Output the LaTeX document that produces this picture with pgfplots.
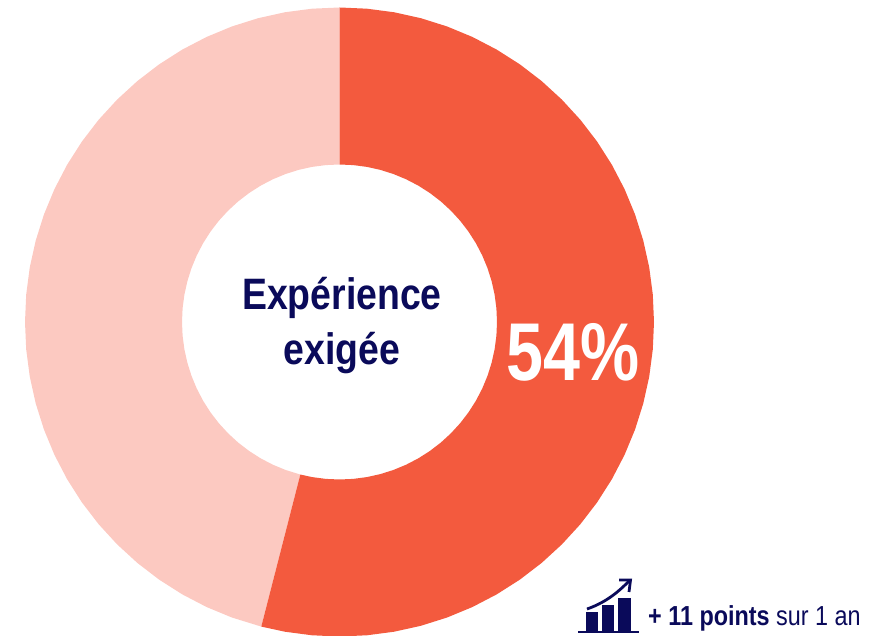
\documentclass[border=0pt]{standalone}
\usepackage{fontspec}
\usepackage{pgfplots}
\pgfplotsset{compat=1.18}
\setmainfont{Liberation Sans}
\newfontfamily\narrowbf[FakeStretch=0.85]{Liberation Sans Bold}
\newfontfamily\narrowbig[FakeStretch=0.81]{Liberation Sans Bold}
\newfontfamily\narrowrm[FakeStretch=0.85]{Liberation Sans}
\definecolor{coral}{HTML}{F35A3E}
\definecolor{lightcoral}{HTML}{FCC9C1}
\definecolor{navy}{HTML}{0A0A5A}
\begin{document}
\begin{tikzpicture}
\begin{axis}[
  at={(0pt,0pt)}, anchor=south west,
  scale only axis, width=884pt, height=636pt,
  xmin=-339.5, xmax=544.5, ymin=-314, ymax=322,
  hide axis, clip=false]
% slice: 54 % of the ring clockwise from 12 o'clock (angle, radius)
\addplot[fill=lightcoral, draw=none, data cs=polar] coordinates {
(90,314.5)(95,314.5)(100,314.5)(105,314.5)(110,314.5)(115,314.5)(120,314.5)(125,314.5)(130,314.5)(135,314.5)(140,314.5)(145,314.5)(150,314.5)(155,314.5)(160,314.5)(165,314.5)(170,314.5)(175,314.5)(180,314.5)(185,314.5)(190,314.5)(195,314.5)(200,314.5)(205,314.5)(210,314.5)(215,314.5)(220,314.5)(225,314.5)(230,314.5)(235,314.5)(240,314.5)(245,314.5)(250,314.5)(255.6,314.5)
(255.6,157.5)(250,157.5)(245,157.5)(240,157.5)(235,157.5)(230,157.5)(225,157.5)(220,157.5)(215,157.5)(210,157.5)(205,157.5)(200,157.5)(195,157.5)(190,157.5)(185,157.5)(180,157.5)(175,157.5)(170,157.5)(165,157.5)(160,157.5)(155,157.5)(150,157.5)(145,157.5)(140,157.5)(135,157.5)(130,157.5)(125,157.5)(120,157.5)(115,157.5)(110,157.5)(105,157.5)(100,157.5)(95,157.5)(90,157.5)
} -- cycle;
\addplot[fill=coral, draw=none, data cs=polar] coordinates {
(90,314.5)(85,314.5)(80,314.5)(75,314.5)(70,314.5)(65,314.5)(60,314.5)(55,314.5)(50,314.5)(45,314.5)(40,314.5)(35,314.5)(30,314.5)(25,314.5)(20,314.5)(15,314.5)(10,314.5)(5,314.5)(0,314.5)(-5,314.5)(-10,314.5)(-15,314.5)(-20,314.5)(-25,314.5)(-30,314.5)(-35,314.5)(-40,314.5)(-45,314.5)(-50,314.5)(-55,314.5)(-60,314.5)(-65,314.5)(-70,314.5)(-75,314.5)(-80,314.5)(-85,314.5)(-90,314.5)(-95,314.5)(-100,314.5)(-104.4,314.5)
(-104.4,157.5)(-100,157.5)(-95,157.5)(-90,157.5)(-85,157.5)(-80,157.5)(-75,157.5)(-70,157.5)(-65,157.5)(-60,157.5)(-55,157.5)(-50,157.5)(-45,157.5)(-40,157.5)(-35,157.5)(-30,157.5)(-25,157.5)(-20,157.5)(-15,157.5)(-10,157.5)(-5,157.5)(0,157.5)(5,157.5)(10,157.5)(15,157.5)(20,157.5)(25,157.5)(30,157.5)(35,157.5)(40,157.5)(45,157.5)(50,157.5)(55,157.5)(60,157.5)(65,157.5)(70,157.5)(75,157.5)(80,157.5)(85,157.5)(90,157.5)
} -- cycle;
% texts
\node[anchor=base, text=navy, font=\narrowbf\fontsize{44}{44}\selectfont] at (axis cs:2.5,12) {Expérience};
\node[anchor=base, text=navy, font=\narrowbf\fontsize{44}{44}\selectfont] at (axis cs:2.5,-43) {exigée};
\node[anchor=base, text=white, font=\narrowbig\fontsize{82}{82}\selectfont] at (axis cs:233.5,-59) {54\%};
\node[anchor=base west, inner sep=0pt, text=navy, font=\narrowrm\fontsize{27.5}{27.5}\selectfont] at (axis cs:308.5,-304) {{\narrowbf + 11 points} sur 1 an};
% icon
\addplot[fill=navy, draw=none] coordinates {(246.5,-310)(258.5,-310)(258.5,-290)(246.5,-290)} -- cycle;
\addplot[fill=navy, draw=none] coordinates {(262.5,-310)(274.5,-310)(274.5,-283)(262.5,-283)} -- cycle;
\addplot[fill=navy, draw=none] coordinates {(278.5,-310)(291.5,-310)(291.5,-276)(278.5,-276)} -- cycle;
\addplot[navy, line width=2.6pt] coordinates {(238.5,-310)(299.5,-310)};
\draw[navy, line width=2.8pt] (axis cs:247.5,-287) .. controls (axis cs:265,-281) and (axis cs:278,-271) .. (axis cs:289.5,-259);
\draw[navy, line width=2.8pt] (axis cs:279.5,-258) -- (axis cs:291,-258) -- (axis cs:289.5,-270);
\end{axis}
\pgfresetboundingbox
\useasboundingbox (0pt,0pt) rectangle (884pt,636pt);
\end{tikzpicture}
\end{document}
